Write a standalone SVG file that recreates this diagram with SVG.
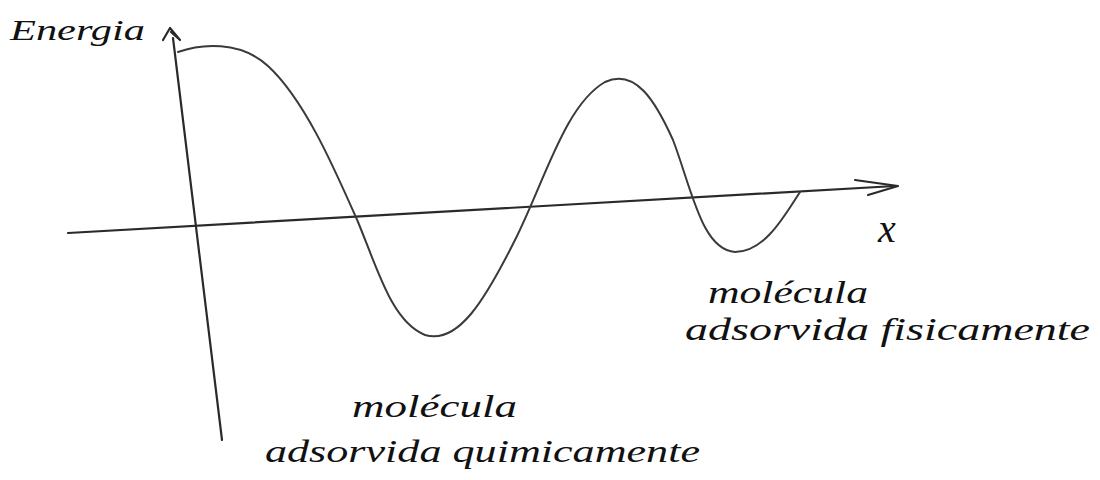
<svg xmlns="http://www.w3.org/2000/svg" width="1100" height="480" viewBox="0 0 1100 480">
<style>
.ax{fill:none;stroke:#2a2a2a;stroke-width:2.2;stroke-linecap:round;stroke-linejoin:round}
.cv{fill:none;stroke:#3a3a3a;stroke-width:2;stroke-linecap:round}
.t{font-family:"Liberation Serif",serif;font-style:italic;fill:#111}
</style>
<rect width="1100" height="480" fill="#fff"/>
<g id="axes">
<path class="ax" d="M173 38 L222 440"/>
<path class="ax" d="M163 40 L170 28 L180 40 L171 32"/>
<path class="ax" d="M68 233 L895 186"/>
<path class="ax" d="M855 180 L898 186 L868 195"/>
</g>
<g id="curve">
<path class="cv" d="M178 52 C200 44 240 40 268 66 C305 100 335 170 358 222 C378 270 392 322 425 335 C458 345 485 300 515 240 C545 180 565 105 605 82 C635 68 655 100 673 140 C692 190 702 250 735 252 C765 252 785 215 800 192"/>
</g>
<g id="labels">
<text class="t" x="10" y="40" font-size="30" textLength="135" lengthAdjust="spacingAndGlyphs">Energia</text>
<text class="t" x="878" y="242" font-size="40">x</text>
<text class="t" x="708" y="303" font-size="32" textLength="160" lengthAdjust="spacingAndGlyphs">molécula</text>
<text class="t" x="685" y="340" font-size="32" textLength="405" lengthAdjust="spacingAndGlyphs">adsorvida fisicamente</text>
<text class="t" x="352" y="417" font-size="32" textLength="165" lengthAdjust="spacingAndGlyphs">molécula</text>
<text class="t" x="265" y="462" font-size="32" textLength="435" lengthAdjust="spacingAndGlyphs">adsorvida quimicamente</text>
</g>
</svg>
